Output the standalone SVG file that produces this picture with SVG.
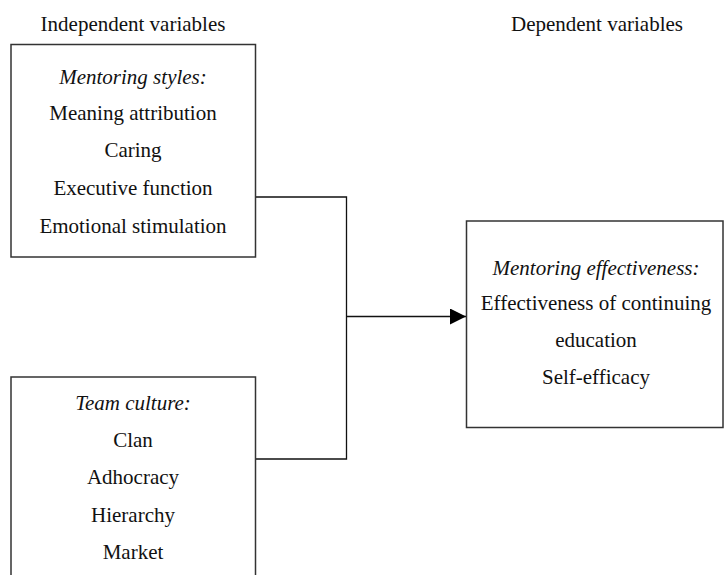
<svg xmlns="http://www.w3.org/2000/svg" width="724" height="575" viewBox="0 0 724 575">
<style>
text{font-family:"Liberation Serif","Times New Roman",serif;font-size:21px;fill:#111;text-anchor:middle}
.h{font-style:italic}
.box{fill:#fff;stroke:#333;stroke-width:1.5}
.c{fill:none;stroke:#111;stroke-width:1.3}
</style>
<defs>
<marker id="arr" viewBox="0 0 16 16" refX="16" refY="8" markerWidth="16" markerHeight="16" markerUnits="userSpaceOnUse" orient="auto">
<path d="M0,0 L16,8 L0,16 Z" fill="#000"/>
</marker>
</defs>
<text x="133" y="31">Independent variables</text>
<text x="597" y="31">Dependent variables</text>
<g id="connectors">
<path class="c" d="M256,197 H346.5 V459 H256"/>
<path class="c" d="M346.5,316.5 H466" marker-end="url(#arr)"/>
</g>
<g id="mentoring-styles">
<rect class="box" x="11" y="44.5" width="244.5" height="212.5"/>
<text class="h" x="133" y="84">Mentoring styles:</text>
<text x="133" y="120">Meaning attribution</text>
<text x="133" y="157">Caring</text>
<text x="133" y="195">Executive function</text>
<text x="133" y="233">Emotional stimulation</text>
</g>
<g id="team-culture">
<rect class="box" x="11" y="377" width="244.5" height="210"/>
<text class="h" x="133" y="410">Team culture:</text>
<text x="133" y="447">Clan</text>
<text x="133" y="484">Adhocracy</text>
<text x="133" y="522">Hierarchy</text>
<text x="133" y="559">Market</text>
</g>
<g id="mentoring-effectiveness">
<rect class="box" x="466.5" y="221" width="256.5" height="206.5"/>
<text class="h" x="596" y="275">Mentoring effectiveness:</text>
<text x="596" y="310">Effectiveness of continuing</text>
<text x="596" y="347">education</text>
<text x="596" y="384">Self-efficacy</text>
</g>
</svg>
